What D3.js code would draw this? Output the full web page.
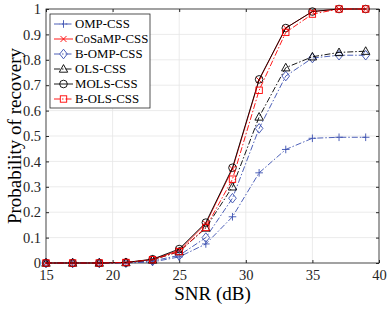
<!DOCTYPE html>
<html>
<head>
<meta charset="utf-8">
<script src="https://cdn.jsdelivr.net/npm/d3@7"></script>
<style>
  body { margin: 0; background: #fff; }
  text { font-family: "Liberation Serif", "Times New Roman", serif; }
</style>
</head>
<body>
<div id="container"></div>
<script>
const snr = [15, 17, 19, 21, 23, 25, 27, 29, 31, 33, 35, 37, 39];
const ompCss    = [0, 0, 0, 0, 0.004, 0.024, 0.075, 0.182, 0.355, 0.447, 0.491, 0.495, 0.495];
const cosampCss = [0, 0, 0, 0.002, 0.014, 0.05, 0.155, 0.37, 0.72, 0.925, 0.99, 1, 1];
const bOmpCss   = [0, 0, 0, 0.001, 0.008, 0.03, 0.1, 0.255, 0.53, 0.736, 0.807, 0.818, 0.818];
const olsCss    = [0, 0, 0, 0.002, 0.012, 0.045, 0.138, 0.3, 0.575, 0.769, 0.812, 0.829, 0.834];
const molsCss   = [0, 0, 0, 0.002, 0.015, 0.055, 0.159, 0.375, 0.723, 0.925, 0.99, 1, 1];
const bOlsCss   = [0, 0, 0, 0.002, 0.013, 0.045, 0.14, 0.33, 0.68, 0.908, 0.98, 1, 1];
const xTicks = [15, 20, 25, 30, 35, 40];
const yTicks = [0, 0.1, 0.2, 0.3, 0.4, 0.5, 0.6, 0.7, 0.8, 0.9, 1];

const blue = "#3a4fb0", red = "#ff0000", black = "#000";
const series = [
  { name: "OMP-CSS",    values: ompCss,    color: blue,  dash: "6,2,1.5,2", marker: "plus" },
  { name: "CoSaMP-CSS", values: cosampCss, color: red,   dash: null,        marker: "cross" },
  { name: "B-OMP-CSS",  values: bOmpCss,   color: blue,  dash: "6,2,1.5,2", marker: "diamond" },
  { name: "OLS-CSS",    values: olsCss,    color: black, dash: "6,2,1.5,2", marker: "triangle" },
  { name: "MOLS-CSS",   values: molsCss,   color: black, dash: null,        marker: "circle" },
  { name: "B-OLS-CSS",  values: bOlsCss,   color: red,   dash: "6,2,1.5,2", marker: "square" }
];

const width = 387, height = 309;
const margin = { top: 9, right: 8, bottom: 46, left: 46 };

const svg = d3.select("#container").append("svg")
  .attr("width", width).attr("height", height);

const x = d3.scaleLinear().domain([15, 40]).range([margin.left, width - margin.right]);
const y = d3.scaleLinear().domain([0, 1]).range([height - margin.bottom, margin.top]);

// grid
svg.append("g").selectAll("line.gx").data(xTicks).join("line")
  .attr("x1", d => x(d)).attr("x2", d => x(d))
  .attr("y1", y(0)).attr("y2", y(1))
  .attr("stroke", "#e6e6e6").attr("stroke-width", 0.8);
svg.append("g").selectAll("line.gy").data(yTicks).join("line")
  .attr("x1", x(15)).attr("x2", x(40))
  .attr("y1", d => y(d)).attr("y2", d => y(d))
  .attr("stroke", "#e6e6e6").attr("stroke-width", 0.8);

// axes
svg.append("g")
  .attr("transform", `translate(0,${y(0)})`)
  .call(d3.axisBottom(x).tickValues(xTicks).tickSizeInner(-3).tickSizeOuter(0).tickPadding(7));
svg.append("g")
  .attr("transform", `translate(${x(15)},0)`)
  .call(d3.axisLeft(y).tickValues(yTicks).tickFormat(d => d).tickSizeInner(-3).tickSizeOuter(0).tickPadding(5));
// top/right ticks
svg.append("g")
  .attr("transform", `translate(0,${y(1)})`)
  .call(d3.axisTop(x).tickValues(xTicks).tickSizeInner(-3).tickSizeOuter(0).tickFormat(""));
svg.append("g")
  .attr("transform", `translate(${x(40)},0)`)
  .call(d3.axisRight(y).tickValues(yTicks).tickSizeInner(-3).tickSizeOuter(0).tickFormat(""));
svg.selectAll(".domain").remove();
svg.selectAll(".tick line").attr("stroke", "#262626");
svg.selectAll(".tick text").attr("font-size", 14.5).attr("fill", "#262626")
  .style("font-family", "'Liberation Serif', serif");

svg.append("rect")
  .attr("x", x(15)).attr("y", y(1))
  .attr("width", x(40) - x(15)).attr("height", y(0) - y(1))
  .attr("fill", "none").attr("stroke", "#262626").attr("stroke-width", 0.8);

// marker drawing
function drawMarker(g, type, color) {
  const s = 3.8;
  if (type === "plus") {
    g.append("path").attr("d", `M${-s},0H${s}M0,${-s}V${s}`).attr("stroke", color).attr("fill", "none");
  } else if (type === "cross") {
    const c = s * 0.8;
    g.append("path").attr("d", `M${-c},${-c}L${c},${c}M${-c},${c}L${c},${-c}`).attr("stroke", color).attr("fill", "none");
  } else if (type === "diamond") {
    g.append("path").attr("d", `M0,${-s - 1}L${s},0L0,${s + 1}L${-s},0Z`).attr("stroke", color).attr("fill", "none");
  } else if (type === "triangle") {
    g.append("path").attr("d", `M0,${-s - 0.6}L${s + 0.4},${s - 0.6}L${-s - 0.4},${s - 0.6}Z`).attr("stroke", color).attr("fill", "none");
  } else if (type === "circle") {
    g.append("circle").attr("r", s).attr("stroke", color).attr("fill", "none");
  } else if (type === "square") {
    g.append("rect").attr("x", -3.2).attr("y", -3.2).attr("width", 6.4).attr("height", 6.4).attr("stroke", color).attr("fill", "none");
  }
}

const line = d3.line().x((d, i) => x(snr[i])).y(d => y(d));

series.forEach(s => {
  svg.append("path")
    .attr("d", line(s.values))
    .attr("fill", "none")
    .attr("stroke", s.color)
    .attr("stroke-width", 0.9)
    .attr("stroke-dasharray", s.dash);
  s.values.forEach((v, i) => {
    const g = svg.append("g").attr("transform", `translate(${x(snr[i])},${y(v)})`).attr("stroke-width", 0.9);
    drawMarker(g, s.marker, s.color);
  });
});

// legend
const legend = svg.append("g").attr("transform", "translate(50,14)");
legend.append("rect")
  .attr("width", 100).attr("height", 94)
  .attr("fill", "#fff").attr("stroke", "#262626").attr("stroke-width", 0.8);
series.forEach((s, i) => {
  const ly = 10 + i * 15;
  legend.append("line")
    .attr("x1", 4).attr("x2", 23).attr("y1", ly).attr("y2", ly)
    .attr("stroke", s.color).attr("stroke-width", 0.9)
    .attr("stroke-dasharray", s.dash);
  const g = legend.append("g").attr("transform", `translate(13.5,${ly})`).attr("stroke-width", 0.9);
  drawMarker(g, s.marker, s.color);
  legend.append("text")
    .attr("x", 25).attr("y", ly).attr("dy", "0.35em")
    .attr("font-size", 12.8).attr("fill", "#000")
    .text(s.name);
});

// axis labels
svg.append("text")
  .attr("x", (x(15) + x(40)) / 2).attr("y", 300)
  .attr("text-anchor", "middle").attr("font-size", 19)
  .text("SNR (dB)");
svg.append("text")
  .attr("transform", `translate(21,${(y(0) + y(1)) / 2}) rotate(-90)`)
  .attr("text-anchor", "middle").attr("font-size", 19)
  .text("Probability of recovery");
</script>
</body>
</html>
